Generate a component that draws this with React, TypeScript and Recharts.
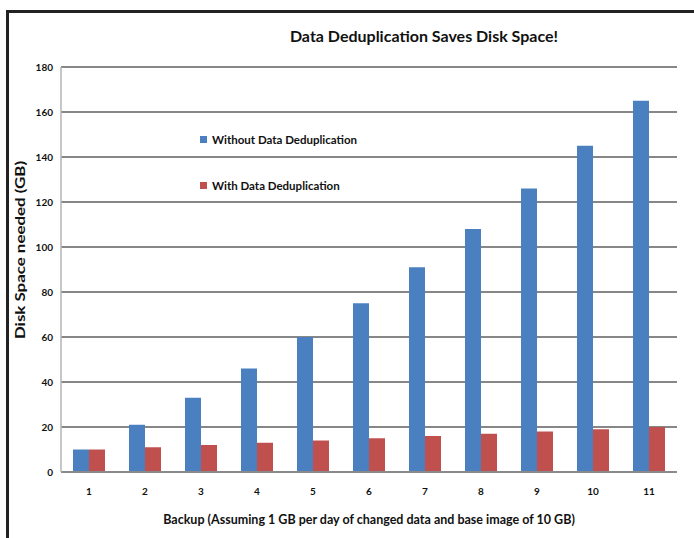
import React from "react";
import { BarChart, Bar, XAxis, YAxis, CartesianGrid } from "recharts";

const backups = ["1", "2", "3", "4", "5", "6", "7", "8", "9", "10", "11"];
const withoutDedup = [10, 21, 33, 46, 60, 75, 91, 108, 126, 145, 165];
const withDedup = [10, 11, 12, 13, 14, 15, 16, 17, 18, 19, 20];
const yTicks = [0, 20, 40, 60, 80, 100, 120, 140, 160, 180];

const FONT = "Lato, 'Open Sans', sans-serif";
const BLUE = "#4a7fc0";
const RED = "#c0504d";

const chartData = backups.map((b, i) => ({
  backup: b,
  without: withoutDedup[i],
  with: withDedup[i],
}));

const legendItems = [
  { label: "Without Data Deduplication", color: BLUE },
  { label: "With Data Deduplication", color: RED },
];

function LegendBox() {
  return (
    <div
      style={{
        position: "absolute",
        left: 200,
        top: 131,
        fontFamily: FONT,
        fontWeight: "bold",
        fontSize: 11.5,
        color: "#111",
      }}
    >
      {legendItems.map((it, i) => (
        <div
          key={it.label}
          style={{ display: "flex", alignItems: "center", height: 16, marginBottom: i === 0 ? 30 : 0 }}
        >
          <span style={{ width: 7, height: 7, background: it.color, marginRight: 5, display: "inline-block" }} />
          {it.label}
        </div>
      ))}
    </div>
  );
}

export default function App() {
  return (
    <div style={{ position: "absolute", left: 0, top: 0, width: 694, height: 538, background: "#fff", overflow: "hidden" }}>
      <div
        style={{
          position: "absolute",
          left: 6,
          top: 10,
          width: 700,
          height: 540,
          borderLeft: "3px solid #222",
          borderTop: "3px solid #222",
        }}
      />
      <div
        style={{
          position: "absolute",
          left: 200,
          top: 26,
          width: 448,
          textAlign: "center",
          fontFamily: FONT,
          fontWeight: "bold",
          fontSize: 16,
          color: "#111",
        }}
      >
        Data Deduplication Saves Disk Space!
      </div>
      <div
        style={{
          position: "absolute",
          left: 20,
          top: 250,
          transform: "translate(-50%, -50%) rotate(-90deg) scaleX(1.3)",
          whiteSpace: "nowrap",
          fontFamily: FONT,
          fontWeight: "bold",
          fontSize: 13,
          color: "#111",
        }}
      >
        Disk Space needed (GB)
      </div>
      <div
        style={{
          position: "absolute",
          left: 61,
          top: 512,
          width: 616,
          textAlign: "center",
          fontFamily: FONT,
          fontWeight: "bold",
          fontSize: 12.5,
          color: "#111",
        }}
      >
        Backup (Assuming 1 GB per day of changed data and base image of 10 GB)
      </div>
      <div style={{ position: "absolute", left: 0, top: 0 }}>
        <BarChart
          width={694}
          height={538}
          data={chartData}
          margin={{ top: 67, right: 17, bottom: 6, left: 0 }}
          barGap={0}
          barSize={16}
        >
          <CartesianGrid horizontal vertical={false} stroke="#878787" strokeWidth={2} />
          <XAxis
            dataKey="backup"
            height={60}
            tickLine={false}
            tickSize={0}
            tickMargin={16}
            axisLine={{ stroke: "#8a8a8a", strokeWidth: 2 }}
            tick={{ fill: "#111", fontSize: 10, fontWeight: "bold", fontFamily: FONT }}
          />
          <YAxis
            width={61}
            domain={[0, 180]}
            ticks={yTicks}
            interval={0}
            tickLine={false}
            axisLine={{ stroke: "#b5b5b5", strokeWidth: 1.5 }}
            tick={{ fill: "#111", fontSize: 10, fontWeight: "bold", fontFamily: FONT }}
          />
          <Bar dataKey="without" fill={BLUE} isAnimationActive={false} />
          <Bar dataKey="with" fill={RED} isAnimationActive={false} />
        </BarChart>
      </div>
      <LegendBox />
    </div>
  );
}
